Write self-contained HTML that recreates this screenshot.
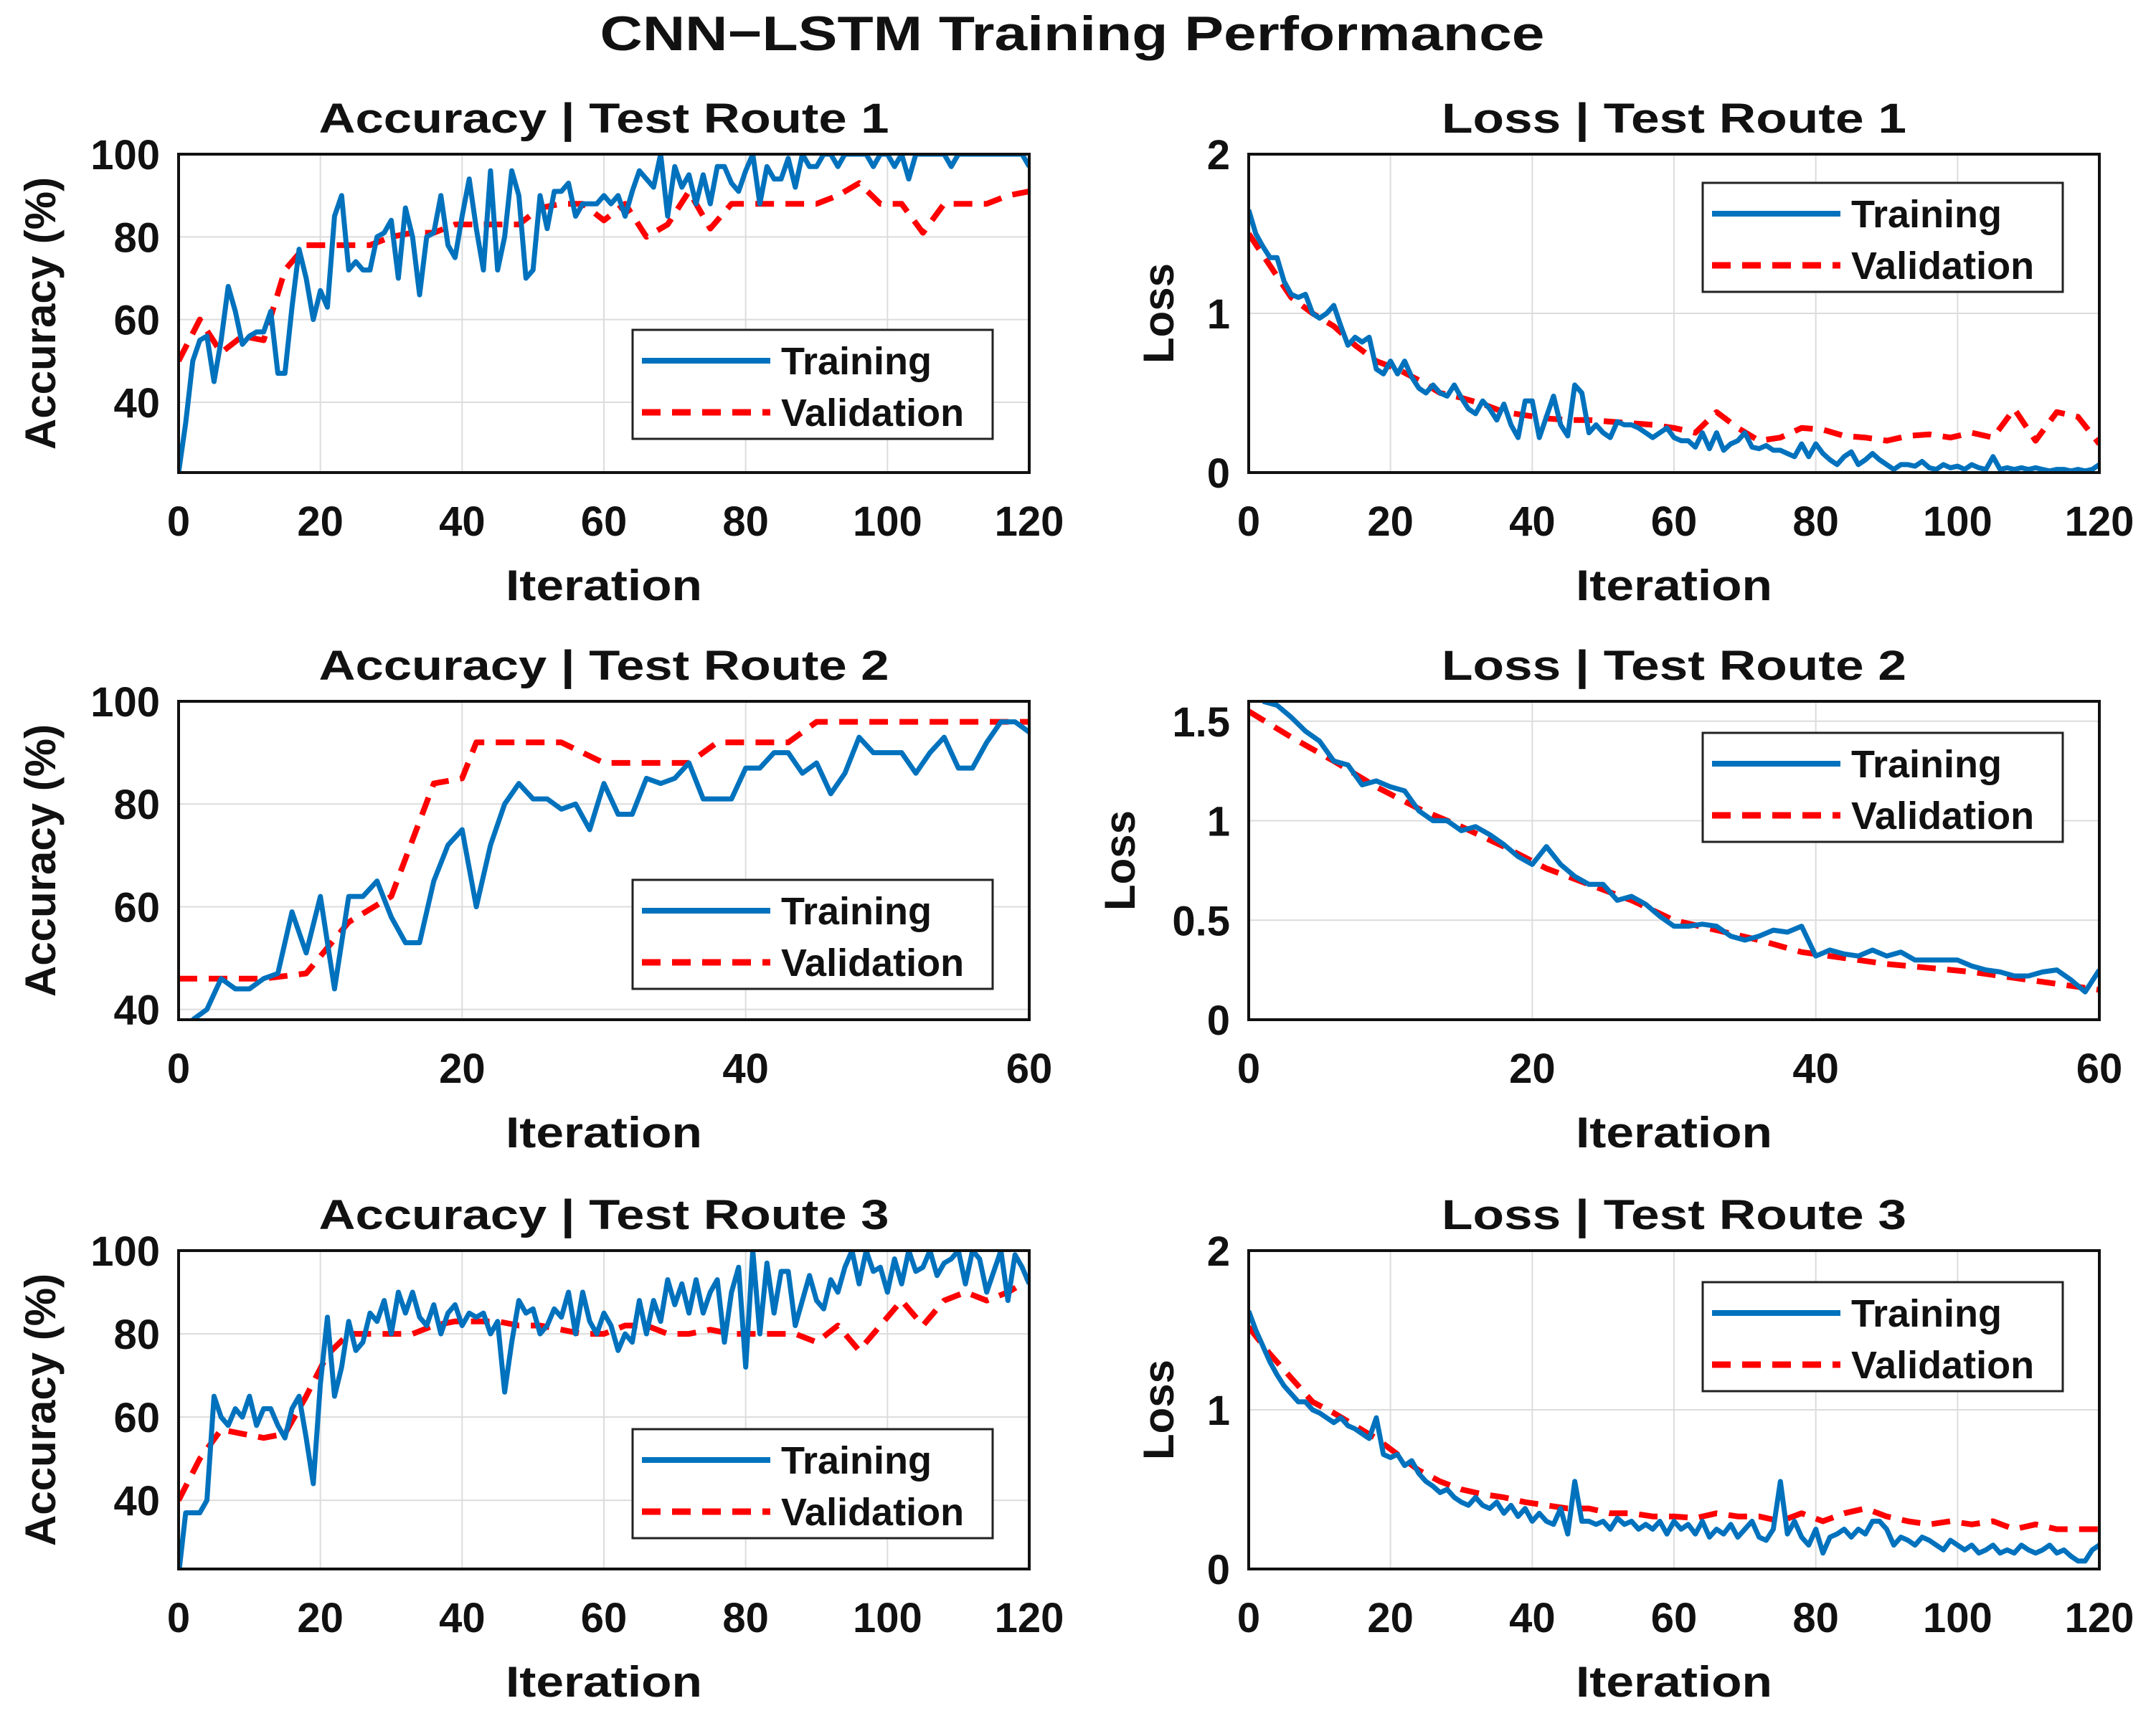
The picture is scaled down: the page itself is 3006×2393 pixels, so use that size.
<!DOCTYPE html>
<html><head><meta charset="utf-8">
<style>
html,body{margin:0;padding:0;background:#fff;}
svg{display:block;}
text{font-family:"Liberation Sans",Arial,sans-serif;font-weight:bold;fill:#111;}
</style></head>
<body>
<svg id="fig" width="3006" height="2393" viewBox="0 0 3006 2393" xmlns="http://www.w3.org/2000/svg">
<rect width="3006" height="2393" fill="#fff"/>
<text x="1495" y="70" font-size="68" text-anchor="middle" textLength="1317" lengthAdjust="spacingAndGlyphs">CNN−LSTM Training Performance</text>
</svg>
<script>
// ---------- Data ----------
const acc1TrainX0 = 0;
const acc1Train = [23,35,50,55,56,45,55,68,62,54,56,57,57,62,47,47,63,77,70,60,67,63,85,90,72,74,72,72,80,81,84,70,87,80,66,80,81,90,78,75,85,94,82,72,96,72,80,96,90,70,72,90,82,91,91,93,85,88,88,88,90,88,90,85,91,96,94,92,100,85,97,92,95,88,95,88,97,97,93,91,96,100,88,97,94,94,99,92,100,97,97,100,100,97,100,100,100,100,97,100,100,97,100,94,100,100,100,100,100,97,100,100,100,100,100,100,100,100,100,100,97];
const acc1ValX = [0,3,6,9,12,15,18,21,24,27,30,33,36,39,42,45,48,51,54,57,60,63,66,69,72,75,78,81,84,87,90,93,96,99,102,105,108,111,114,117,120];
const acc1Val = [50,60,52,56,55,72,78,78,78,78,80,81,81,83,83,83,83,87,88,88,84,88,80,83,91,82,88,88,88,88,88,90,93,88,88,81,88,88,88,90,91];

const loss1TrainX0 = 0;
const loss1Train = [1.65,1.5,1.42,1.35,1.35,1.2,1.12,1.1,1.12,1.0,0.97,1.0,1.05,0.92,0.8,0.85,0.82,0.85,0.65,0.62,0.7,0.62,0.7,0.6,0.53,0.5,0.55,0.5,0.48,0.55,0.47,0.4,0.37,0.45,0.4,0.33,0.43,0.3,0.22,0.45,0.45,0.22,0.35,0.48,0.3,0.23,0.55,0.5,0.25,0.3,0.25,0.22,0.32,0.3,0.3,0.28,0.25,0.22,0.25,0.28,0.22,0.2,0.2,0.16,0.25,0.15,0.25,0.14,0.18,0.2,0.25,0.16,0.15,0.17,0.14,0.14,0.12,0.1,0.18,0.1,0.18,0.12,0.08,0.05,0.1,0.13,0.05,0.08,0.12,0.08,0.05,0.02,0.05,0.05,0.04,0.07,0.03,0.02,0.05,0.03,0.04,0.02,0.05,0.03,0.02,0.1,0.02,0.03,0.02,0.03,0.02,0.03,0.02,0.01,0.02,0.02,0.01,0.02,0.01,0.02,0.05];
const loss1ValX = [0,3,6,9,12,15,18,21,24,27,30,33,36,39,42,45,48,51,54,57,60,63,66,69,72,75,78,81,84,87,90,93,96,99,102,105,108,111,114,117,120];
const loss1Val = [1.5,1.3,1.1,1.0,0.92,0.8,0.7,0.65,0.58,0.5,0.47,0.43,0.38,0.36,0.34,0.33,0.33,0.32,0.31,0.3,0.28,0.25,0.38,0.28,0.2,0.22,0.28,0.27,0.23,0.22,0.2,0.23,0.24,0.22,0.25,0.22,0.4,0.2,0.38,0.35,0.18];

const acc2TrainX0 = 1;
const acc2Train = [38,40,46,44,44,46,47,59,51,62,44,62,62,65,58,53,53,65,72,75,60,72,80,84,81,81,79,80,75,84,78,78,85,84,85,88,81,81,81,87,87,90,90,86,88,82,86,93,90,90,90,86,90,93,87,87,92,96,96,94];
const acc2ValX = [0,3,6,9,12,15,18,20,21,24,27,30,33,36,38,40,43,45,48,51,54,57,60];
const acc2Val = [46,46,46,47,57,62,84,85,92,92,92,88,88,88,92,92,92,96,96,96,96,96,96];

const loss2TrainX0 = 1;
const loss2Train = [1.6,1.58,1.52,1.45,1.4,1.3,1.28,1.18,1.2,1.17,1.15,1.05,1.0,1.0,0.95,0.97,0.93,0.88,0.82,0.78,0.87,0.78,0.72,0.68,0.68,0.6,0.62,0.58,0.52,0.47,0.47,0.48,0.47,0.42,0.4,0.42,0.45,0.44,0.47,0.32,0.35,0.33,0.32,0.35,0.32,0.34,0.3,0.3,0.3,0.3,0.27,0.25,0.24,0.22,0.22,0.24,0.25,0.2,0.14,0.25];
const loss2ValX = [0,3,6,9,12,15,18,21,24,27,30,33,36,39,42,45,48,51,54,57,60];
const loss2Val = [1.55,1.42,1.3,1.17,1.06,0.97,0.87,0.76,0.68,0.6,0.5,0.45,0.4,0.34,0.31,0.28,0.26,0.24,0.21,0.18,0.15];

const acc3TrainX0 = 0;
const acc3Train = [22,37,37,37,40,65,60,58,62,60,65,58,62,62,58,55,62,65,55,44,68,84,65,72,83,76,78,85,83,88,80,90,85,90,84,82,87,80,85,87,82,85,84,85,80,83,66,78,88,85,86,80,82,86,84,90,80,90,83,80,85,82,76,80,78,88,80,88,83,93,87,92,85,93,85,90,93,78,90,96,72,100,80,97,85,95,95,82,88,94,88,86,93,90,96,100,92,100,95,96,90,98,92,100,95,96,100,94,97,98,100,92,100,98,90,95,100,88,99,96,92];
const acc3ValX = [0,3,6,9,12,15,18,21,24,27,30,33,36,39,42,45,48,51,54,57,60,63,66,69,72,75,78,81,84,87,90,93,96,99,102,105,108,111,114,117,120];
const acc3Val = [40,50,57,56,55,56,65,75,80,80,80,80,82,83,83,83,82,82,81,80,80,82,82,80,80,81,80,80,80,80,78,82,76,82,88,82,88,90,88,90,93];

const loss3TrainX0 = 0;
const loss3Train = [1.62,1.5,1.4,1.3,1.22,1.15,1.1,1.05,1.05,1.0,0.98,0.95,0.92,0.95,0.9,0.88,0.85,0.82,0.95,0.72,0.7,0.72,0.65,0.68,0.6,0.55,0.52,0.48,0.5,0.45,0.42,0.4,0.45,0.4,0.38,0.42,0.35,0.4,0.33,0.38,0.3,0.35,0.3,0.28,0.38,0.22,0.55,0.3,0.3,0.28,0.3,0.25,0.32,0.28,0.3,0.25,0.28,0.25,0.3,0.22,0.3,0.25,0.28,0.22,0.3,0.2,0.25,0.22,0.28,0.2,0.25,0.3,0.2,0.18,0.25,0.55,0.22,0.3,0.2,0.15,0.25,0.1,0.2,0.22,0.25,0.2,0.25,0.22,0.3,0.3,0.25,0.15,0.2,0.18,0.15,0.2,0.18,0.15,0.12,0.18,0.15,0.12,0.15,0.1,0.12,0.15,0.1,0.12,0.1,0.15,0.12,0.1,0.12,0.15,0.1,0.12,0.08,0.05,0.05,0.12,0.15];
const loss3ValX = [0,3,6,9,12,15,18,21,24,27,30,33,36,39,42,45,48,51,54,57,60,63,66,69,72,75,78,81,84,87,90,93,96,99,102,105,108,111,114,117,120];
const loss3Val = [1.52,1.35,1.2,1.05,0.98,0.9,0.82,0.72,0.62,0.55,0.5,0.47,0.45,0.42,0.4,0.38,0.38,0.35,0.35,0.33,0.33,0.32,0.35,0.33,0.33,0.3,0.35,0.3,0.35,0.38,0.33,0.3,0.28,0.3,0.28,0.3,0.25,0.28,0.25,0.25,0.25];

const xTicks120 = [0,20,40,60,80,100,120];
const xTicks60 = [0,20,40,60];
const accYTicks = [40,60,80,100];
const lossYTicks2 = [0,1,2];
const lossYTicksR2 = [0,0.5,1,1.5];
const lossYTickLabelsR2 = ["0","0.5","1","1.5"];

// ---------- Rendering ----------
const NS = "http://www.w3.org/2000/svg";
const svg = document.getElementById('fig');
function mk(tag, attrs, parent){
  const e = document.createElementNS(NS, tag);
  for (const k in attrs) e.setAttribute(k, attrs[k]);
  (parent||svg).appendChild(e);
  return e;
}
const panels = [
  {id:'acc-route-1', title:'Accuracy | Test Route 1', tlen:795, ylab:'Accuracy (%)', L:249, T:215, xmax:120, ymin:23, ymax:100, xt:xTicks120, yt:accYTicks, ytl:null, tx0:acc1TrainX0, tr:acc1Train, vx:acc1ValX, vv:acc1Val, legDy:245, ylabX:57},
  {id:'loss-route-1', title:'Loss | Test Route 1', tlen:648, ylab:'Loss', L:1741, T:215, xmax:120, ymin:0, ymax:2, xt:xTicks120, yt:lossYTicks2, ytl:null, tx0:loss1TrainX0, tr:loss1Train, vx:loss1ValX, vv:loss1Val, legDy:40, ylabX:1616},
  {id:'acc-route-2', title:'Accuracy | Test Route 2', tlen:795, ylab:'Accuracy (%)', L:249, T:978, xmax:60, ymin:38, ymax:100, xt:xTicks60, yt:accYTicks, ytl:null, tx0:acc2TrainX0, tr:acc2Train, vx:acc2ValX, vv:acc2Val, legDy:249, ylabX:57},
  {id:'loss-route-2', title:'Loss | Test Route 2', tlen:648, ylab:'Loss', L:1741, T:978, xmax:60, ymin:0, ymax:1.6, xt:xTicks60, yt:lossYTicksR2, ytl:lossYTickLabelsR2, tx0:loss2TrainX0, tr:loss2Train, vx:loss2ValX, vv:loss2Val, legDy:44, ylabX:1562},
  {id:'acc-route-3', title:'Accuracy | Test Route 3', tlen:795, ylab:'Accuracy (%)', L:249, T:1744, xmax:120, ymin:23.5, ymax:100, xt:xTicks120, yt:accYTicks, ytl:null, tx0:acc3TrainX0, tr:acc3Train, vx:acc3ValX, vv:acc3Val, legDy:249, ylabX:57},
  {id:'loss-route-3', title:'Loss | Test Route 3', tlen:648, ylab:'Loss', L:1741, T:1744, xmax:120, ymin:0, ymax:2, xt:xTicks120, yt:lossYTicks2, ytl:null, tx0:loss3TrainX0, tr:loss3Train, vx:loss3ValX, vv:loss3Val, legDy:44, ylabX:1616}
];
const W = 1186, H = 444;
panels.forEach((p, pi) => {
  const g = mk('g', {});
  
  
  const sx = v => p.L + v / p.xmax * W;
  const sy = v => p.T + H - (v - p.ymin) / (p.ymax - p.ymin) * H;
  const clipId = 'clip' + pi;
  const cp = mk('clipPath', {id: clipId}, g);
  mk('rect', {x:p.L, y:p.T, width:W, height:H}, cp);
  mk('rect', {x:p.L, y:p.T, width:W, height:H, fill:'#fff'}, g);
  p.xt.forEach(v => {
    const l = mk('line', {x1:sx(v), x2:sx(v), y1:p.T, y2:p.T+H, stroke:'#dcdcdc', 'stroke-width':2}, g);
    
    
    const t = mk('text', {x:sx(v), y:p.T+H+88, 'font-size':58, 'text-anchor':'middle'}, g);
    
    
    t.textContent = v;
  });
  p.yt.forEach((v, i) => {
    const l = mk('line', {x1:p.L, x2:p.L+W, y1:sy(v), y2:sy(v), stroke:'#dcdcdc', 'stroke-width':2}, g);
    
    
    const t = mk('text', {x:p.L-26, y:sy(v)+21, 'font-size':58, 'text-anchor':'end'}, g);
    
    
    t.textContent = p.ytl ? p.ytl[i] : v;
  });
  const cg = mk('g', {'clip-path':'url(#' + clipId + ')'}, g);
  const vp = p.vx.map((x, i) => sx(x).toFixed(1) + ',' + sy(p.vv[i]).toFixed(1)).join(' ');
  const vl = mk('polyline', {points:vp, fill:'none', stroke:'#ff0000', 'stroke-width':8, 'stroke-dasharray':'26 16', 'stroke-linejoin':'round'}, cg);
  
  
  const tp = p.tr.map((v, i) => sx(p.tx0 + i).toFixed(1) + ',' + sy(v).toFixed(1)).join(' ');
  const tl = mk('polyline', {points:tp, fill:'none', stroke:'#0072BD', 'stroke-width':7, 'stroke-linejoin':'round'}, cg);
  
  
  const bx = mk('rect', {x:p.L, y:p.T, width:W, height:H, fill:'none', stroke:'#111', 'stroke-width':4}, g);
  
  
  const tt = mk('text', {x:p.L+W/2, y:p.T-30, 'font-size':58, 'text-anchor':'middle', textLength:p.tlen, lengthAdjust:'spacingAndGlyphs'}, g);
  
  
  tt.textContent = p.title;
  const xl = mk('text', {x:p.L+W/2, y:p.T+H+178, 'font-size':60, 'text-anchor':'middle', textLength:274, lengthAdjust:'spacingAndGlyphs'}, g);
  
  
  xl.textContent = 'Iteration';
  const yl = mk('text', {x:p.ylabX, y:p.T+H/2, 'font-size':60, 'text-anchor':'middle', transform:'rotate(-90 ' + p.ylabX + ' ' + (p.T+H/2) + ')', dy:20}, g);
  
  
  yl.textContent = p.ylab;
  const lx = p.L + 633, ly = p.T + p.legDy;
  const lg = mk('g', {}, g);
  
  
  mk('rect', {x:lx, y:ly, width:502, height:152, fill:'#fff', stroke:'#222', 'stroke-width':3}, lg);
  mk('line', {x1:lx+13, x2:lx+192, y1:ly+43, y2:ly+43, stroke:'#0072BD', 'stroke-width':8}, lg);
  mk('line', {x1:lx+13, x2:lx+192, y1:ly+115, y2:ly+115, stroke:'#ff0000', 'stroke-width':9, 'stroke-dasharray':'26 16'}, lg);
  const e1 = mk('text', {x:lx+207, y:ly+62, 'font-size':54}, lg);
  
  
  e1.textContent = 'Training';
  const e2 = mk('text', {x:lx+207, y:ly+134, 'font-size':54}, lg);
  
  
  e2.textContent = 'Validation';
});
</script>
</body></html>
